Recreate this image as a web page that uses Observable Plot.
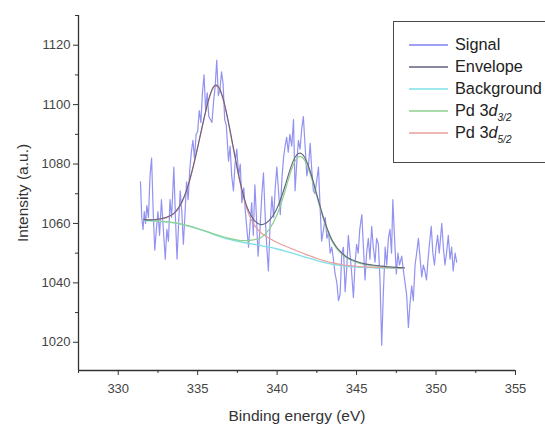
<!DOCTYPE html>
<html>
<head>
<meta charset="utf-8">
<script src="https://cdn.jsdelivr.net/npm/d3@7"></script>
<script src="https://cdn.jsdelivr.net/npm/@observablehq/plot@0.6"></script>
<style>
  html, body { margin: 0; padding: 0; background: #fff; overflow: hidden; }
  #wrap { position: relative; width: 545px; height: 425px; overflow: hidden; font-family: "Liberation Sans", Arial, sans-serif; }
  #legend { position: absolute; left: 393px; top: 21px; width: 200px; height: 128px; border: 1.5px solid #4a4a4a; border-right: none; padding-top: 12px; background: #fff; }
  .row { height: 22px; position: relative; font-size: 16.3px; color: #222; }
  .row svg { position: absolute; left: 15px; top: 0; }
  .row .lb { position: absolute; left: 61px; top: 1px; white-space: nowrap; line-height: 19px; }
  .row sub { font-size: 10px; font-style: italic; vertical-align: -5px; }
</style>
</head>
<body>
<div id="wrap"><div id="chart"></div><div id="legend"></div></div>
<script>
// ---- Measured signal (binding energy, intensity) ----
const signalEnergy = [331.40,331.48,331.56,331.64,331.72,331.80,331.90,332.00,332.10,332.20,332.30,332.40,332.50,332.60,332.72,332.84,332.96,333.06,333.16,333.26,333.36,333.50,333.60,333.70,333.80,333.90,334.00,334.10,334.20,334.30,334.40,334.50,334.60,334.70,334.80,334.90,335.00,335.10,335.20,335.30,335.40,335.50,335.60,335.70,335.80,335.90,336.00,336.10,336.20,336.30,336.40,336.50,336.60,336.70,336.80,336.94,337.04,337.14,337.25,337.35,337.46,337.58,337.68,337.78,337.90,338.00,338.10,338.20,338.30,338.40,338.50,338.60,338.70,338.80,338.92,339.04,339.14,339.25,339.35,339.45,339.56,339.67,339.78,339.88,339.98,340.10,340.20,340.30,340.40,340.50,340.60,340.70,340.80,340.92,341.03,341.13,341.23,341.34,341.44,341.55,341.65,341.76,341.87,341.98,342.08,342.18,342.28,342.38,342.48,342.60,342.70,342.80,342.92,343.03,343.13,343.24,343.34,343.44,343.54,343.65,343.76,343.86,343.96,344.07,344.17,344.28,344.38,344.48,344.58,344.68,344.80,344.90,345.00,345.10,345.20,345.33,345.43,345.53,345.63,345.74,345.84,345.95,346.05,346.16,346.26,346.37,346.48,346.58,346.68,346.80,346.90,347.00,347.10,347.20,347.28,347.38,347.50,347.60,347.70,347.84,347.95,348.05,348.15,348.26,348.36,348.47,348.57,348.68,348.78,348.89,349.00,349.10,349.20,349.30,349.40,349.50,349.60,349.70,349.80,349.90,350.00,350.10,350.20,350.36,350.46,350.56,350.66,350.77,350.88,350.98,351.08,351.20,351.30];
const signalIntensity = [1074,1062,1058,1064,1060,1066,1062,1076,1082,1064,1051,1058,1064,1056,1068,1058,1048,1058,1054,1068,1062,1079,1062,1048,1060,1071,1064,1053,1063,1074,1068,1078,1084,1088,1082,1090,1091,1098,1094,1104,1110,1098,1104,1096,1095,1094,1101,1106,1115,1103,1105,1111,1107,1095,1093,1081,1086,1076,1071,1080,1085,1076,1080,1067,1072,1064,1058,1052,1060,1067,1056,1073,1062,1049,1058,1070,1077,1062,1052,1044,1060,1069,1062,1072,1079,1070,1063,1075,1082,1086,1089,1084,1090,1086,1095,1071,1080,1088,1085,1092,1096,1086,1076,1080,1087,1078,1071,1070,1074,1079,1066,1054,1058,1062,1055,1057,1050,1052,1048,1043,1040,1034,1036,1050,1052,1037,1045,1056,1050,1044,1035,1046,1053,1050,1058,1063,1052,1041,1050,1055,1048,1059,1052,1047,1055,1053,1040,1019,1036,1052,1046,1055,1058,1050,1068,1056,1043,1050,1046,1049,1044,1040,1036,1025,1033,1039,1034,1046,1050,1055,1048,1042,1046,1044,1041,1048,1054,1059,1050,1046,1052,1056,1050,1060,1052,1046,1050,1056,1048,1052,1044,1050,1047];

// ---- Fitted curves (sampled) ----
const fitEnergy  = [331.6,332,332.5,333,333.5,334,334.5,335,335.5,336,336.5,337,337.5,338,338.5,339,339.5,340,340.5,341,341.5,342,342.5,343,343.5,344,344.5,345,345.5,346,346.5,347,347.5,348];
const envelope   = [1061.3,1061.2,1061.4,1062.0,1063.4,1067.2,1074.7,1085.7,1097.7,1106.0,1103.8,1092.4,1078.4,1067.2,1061.5,1059.6,1061.0,1065.2,1072.7,1080.9,1083.6,1078.9,1069.7,1060.6,1054.0,1050.4,1048.3,1047.2,1046.4,1046.0,1045.7,1045.4,1045.2,1045.1];
const background = [1061.0,1060.9,1060.7,1060.5,1060.2,1059.7,1059.0,1058.2,1057.3,1056.3,1055.4,1054.6,1054.0,1053.5,1053.0,1052.5,1052.0,1051.4,1050.7,1049.9,1049.1,1048.3,1047.5,1046.8,1046.2,1045.8,1045.5,1045.3,1045.2,1045.1,1045.0,1045.0,1044.9,1044.9];
const pd32       = [1061.1,1061.0,1060.8,1060.6,1060.3,1059.8,1059.1,1058.3,1057.4,1056.5,1055.7,1055.0,1054.4,1054.2,1054.5,1055.3,1058.0,1063.0,1071.0,1079.5,1082.5,1078.0,1069.0,1060.0,1053.5,1050.0,1048.0,1046.9,1046.2,1045.8,1045.5,1045.3,1045.1,1045.0];
const pd52       = [1061.2,1061.2,1061.4,1061.9,1063.3,1067.0,1074.5,1085.5,1097.5,1105.8,1103.5,1092.0,1078.0,1066.5,1060.0,1056.8,1055.0,1053.6,1052.4,1051.3,1050.2,1049.2,1048.2,1047.4,1046.7,1046.2,1045.8,1045.6,1045.4,1045.3,1045.2,1045.1,1045.0,1045.0];

// ---- Axes ----
const xMajorTicks = [330, 335, 340, 345, 350, 355];
const xMinorTicks = [327.5, 332.5, 337.5, 342.5, 347.5, 352.5];
const yMajorTicks = [1020, 1040, 1060, 1080, 1100, 1120];
const yMinorTicks = [1030, 1050, 1070, 1090, 1110, 1130];
const xDomain = [327.5, 355];
const yDomain = [1010.5, 1130];

// ---- Legend ----
const legendLabels = ["Signal", "Envelope", "Background", "Pd 3<i>d</i><sub>3/2</sub>", "Pd 3<i>d</i><sub>5/2</sub>"];
const seriesColors = ["#7f7ff0", "#62627e", "#7ee0e6", "#8fd08f", "#eb9c9c"];

const signal = signalEnergy.map((e, i) => ({e, v: signalIntensity[i]}));
const fits = fitEnergy.map((e, i) => ({e, env: envelope[i], bg: background[i], p32: pd32[i], p52: pd52[i]}));

const chart = Plot.plot({
  width: 545,
  height: 425,
  marginLeft: 78,
  marginRight: 30,
  marginTop: 15,
  marginBottom: 55,
  style: {fontFamily: "Liberation Sans, Arial, sans-serif", fontSize: "13px", color: "#444", background: "#fff"},
  x: {domain: xDomain},
  y: {domain: yDomain},
  marks: [
    Plot.line(signal, {x: "e", y: "v", stroke: seriesColors[0], strokeWidth: 1.2, strokeOpacity: 0.85}),
    Plot.line(fits, {x: "e", y: "bg", stroke: seriesColors[2], strokeWidth: 1.3, curve: "natural"}),
    Plot.line(fits, {x: "e", y: "p52", stroke: seriesColors[4], strokeWidth: 1.2, curve: "natural"}),
    Plot.line(fits, {x: "e", y: "p32", stroke: seriesColors[3], strokeWidth: 1.2, curve: "natural"}),
    Plot.line(fits, {x: "e", y: "env", stroke: seriesColors[1], strokeWidth: 1.1, curve: "natural"}),
    Plot.ruleY([yDomain[0]], {stroke: "#333", strokeWidth: 1.3}),
    Plot.ruleX([xDomain[0]], {stroke: "#333", strokeWidth: 1.3}),
    Plot.axisX({ticks: xMajorTicks, tickSize: 5, tickPadding: 8, tickFormat: d3.format("d"), stroke: "#333",
      label: "Binding energy (eV)", labelAnchor: "center", labelOffset: 50, labelArrow: "none"}),
    Plot.axisX({ticks: xMinorTicks, tickSize: 3, tickFormat: () => "", stroke: "#333", label: null}),
    Plot.axisY({ticks: yMajorTicks, tickSize: 5, tickPadding: 3, tickFormat: d3.format("d"), stroke: "#333",
      label: "Intensity (a.u.)", labelAnchor: "center", labelOffset: 62, labelArrow: "none"}),
    Plot.axisY({ticks: yMinorTicks, tickSize: 3, tickFormat: () => "", stroke: "#333", label: null})
  ]
});
document.getElementById("chart").appendChild(chart);

// axis label font sizes
chart.querySelectorAll("[aria-label='x-axis label'] text, [aria-label='y-axis label'] text").forEach(t => {
  t.setAttribute("font-size", "15.5px");
  t.setAttribute("fill", "#333");
});

const legend = document.getElementById("legend");
legendLabels.forEach((lab, i) => {
  const row = document.createElement("div");
  row.className = "row";
  row.innerHTML = `<svg width="40" height="22"><line x1="0" x2="39" y1="11" y2="11" stroke="${seriesColors[i]}" stroke-width="1.3"/></svg><span class="lb">${lab}</span>`;
  legend.appendChild(row);
});
</script>
</body>
</html>
